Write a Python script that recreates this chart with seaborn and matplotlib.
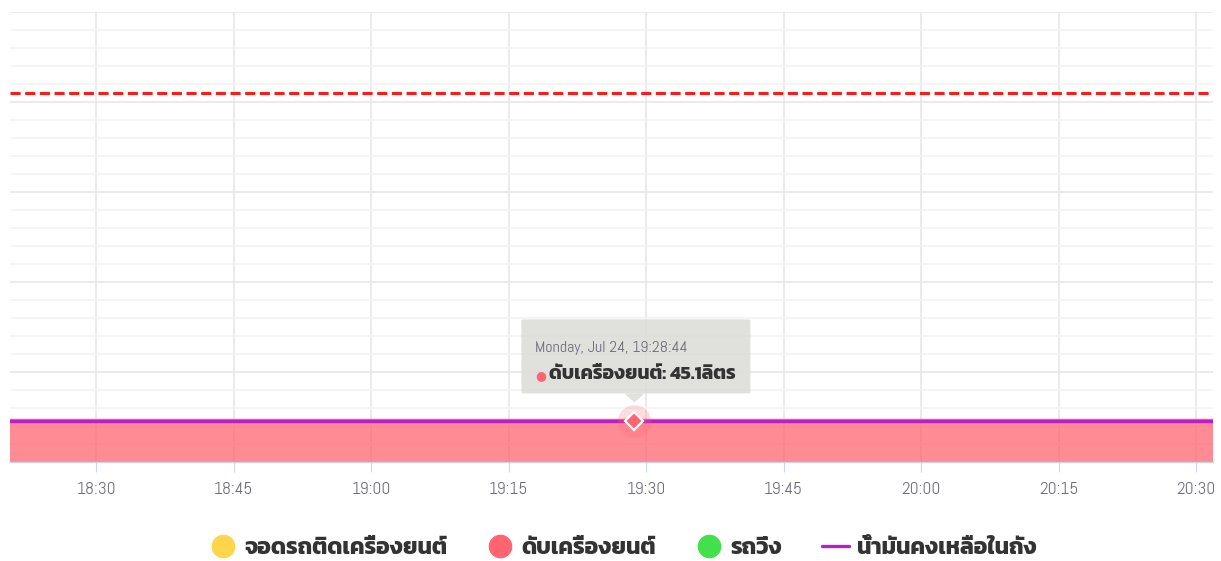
import matplotlib
matplotlib.use("Agg")
import matplotlib.pyplot as plt
import matplotlib.dates as mdates
from matplotlib.lines import Line2D
from matplotlib.patches import FancyBboxPatch, Polygon
from matplotlib.ticker import MultipleLocator, NullFormatter
from matplotlib import font_manager
import pandas as pd
import seaborn as sns

# ---- data -------------------------------------------------------------
times = ["2023-07-24 18:20:37", "2023-07-24 19:28:44", "2023-07-24 20:31:51"]
engine_off_litres = [45.1, 45.1, 45.1]      # ดับเครื่องยนต์ (area)
fuel_remaining = [45.1, 45.1, 45.1]         # น้ำมันคงเหลือในถัง (line)
tank_capacity = 410                          # dashed capacity line
hover_time = "2023-07-24 19:28:44"
hover_value = 45.1
series_names = ["จอดรถติดเครื่องยนต์", "ดับเครื่องยนต์", "รถวิ่ง", "น้ำมันคงเหลือในถัง"]
series_colors = ["#ffd54a", "#ff6470", "#44e04c", "#bb1ec6"]
unit = "ลิตร"

# ---- style ------------------------------------------------------------
sns.set_theme(style="whitegrid")
available = {f.name for f in font_manager.fontManager.ttflist}
def pick(names):
    return [f for f in names if f in available] or ["DejaVu Sans"]
light_fonts = pick(["Abel", "Kanit", "DejaVu Sans"])
bold_fonts = pick(["Kanit", "Noto Sans Thai", "DejaVu Sans"])
plt.rcParams["font.family"] = light_fonts

W, H = 1221, 561
fig = plt.figure(figsize=(W / 100, H / 100), dpi=100)
fig.patch.set_facecolor("white")
ax = fig.add_axes([10 / W, 1 - 462 / H, 1203 / W, 450 / H])
ax.set_facecolor("white")

df = pd.DataFrame({
    "time": pd.to_datetime(times),
    "off": engine_off_litres,
    "fuel": fuel_remaining,
})
hover_t = pd.to_datetime(hover_time)

# area for engine-off periods
ax.fill_between(df["time"], 0, df["off"], color=series_colors[1], alpha=0.75,
                linewidth=0, zorder=2)
sns.lineplot(data=df, x="time", y="off", ax=ax, color=series_colors[1],
             linewidth=3.2, zorder=3, legend=False)
# remaining fuel line
sns.lineplot(data=df, x="time", y="fuel", ax=ax, color=series_colors[3],
             linewidth=2.4, zorder=4, legend=False)
# tank capacity
ax.axhline(tank_capacity, color="#ff1a1a", linestyle=(0, (3.3, 1.5)),
           linewidth=2.2, zorder=4)

# axes ranges & grid
ax.set_xlim(df["time"].iloc[0], df["time"].iloc[-1])
ax.set_ylim(0, 500)
ax.yaxis.set_major_locator(MultipleLocator(100))
ax.yaxis.set_minor_locator(MultipleLocator(20))
ax.yaxis.set_major_formatter(NullFormatter())
ax.xaxis.set_major_locator(mdates.MinuteLocator(byminute=[0, 15, 30, 45]))
ax.xaxis.set_major_formatter(mdates.DateFormatter("%H:%M"))
ax.grid(True, which="major", axis="both", color="#e6e6e6", linewidth=1.1, zorder=0)
ax.grid(True, which="minor", axis="y", color="#f2f2f2", linewidth=1.1, zorder=0)
ax.set_axisbelow(True)
ax.set_xlabel("")
ax.set_ylabel("")
for side in ["left", "right", "top"]:
    ax.spines[side].set_visible(False)
ax.spines["bottom"].set_color("#ccd6eb")
ax.spines["bottom"].set_linewidth(1)
ax.spines["bottom"].set_zorder(5)
ax.tick_params(axis="y", which="both", left=False, length=0)
ax.tick_params(axis="x", which="major", direction="out", length=7.2, width=0.8,
               color="#ccd6eb", pad=7, labelsize=12.5, labelcolor="#6f6f78",
               bottom=True)

# hovered point marker
ax.scatter([hover_t], [hover_value], s=560, color=series_colors[1], alpha=0.22,
           linewidths=0, zorder=5)
ax.plot([hover_t], [hover_value], marker="D", markersize=9,
        markerfacecolor=series_colors[1], markeredgecolor="white",
        markeredgewidth=1.6, linestyle="", zorder=6)

# tooltip anchored to the hovered point
fig.canvas.draw()
px, py = ax.transData.transform((mdates.date2num(hover_t), hover_value))
def fx(x):
    return x / W
def fy(y):
    return y / H
box_l, box_r = px - 113, px + 116
box_b, box_t = py + 28, py + 102
tip_color = (219 / 255, 219 / 255, 216 / 255, 0.85)
tip = FancyBboxPatch((fx(box_l), fy(box_b)), fx(box_r - box_l), fy(box_t - box_b),
                     boxstyle="round,pad=0,rounding_size=0.002",
                     transform=fig.transFigure, facecolor=tip_color,
                     edgecolor="none", zorder=10)
fig.patches.append(tip)
arrow = Polygon([(fx(px - 10), fy(box_b)), (fx(px + 10), fy(box_b)), (fx(px), fy(box_b - 9))],
                closed=True, transform=fig.transFigure,
                facecolor=tip_color, edgecolor="none", zorder=10)
fig.patches.append(arrow)
fig.text(fx(box_l + 14), fy(box_t - 29), hover_t.strftime("%A, %b %d, %H:%M:%S"),
         fontsize=11.5, color="#6c6c7c", va="center", ha="left", zorder=11)
fig.text(fx(box_l + 14), fy(box_t - 56), "●", fontsize=9, color=series_colors[1],
         va="center", ha="left", family="DejaVu Sans", zorder=11)
fig.text(fx(box_l + 28), fy(box_t - 55), f"{series_names[1]}: {hover_value}{unit}",
         fontsize=13.9, fontweight="bold", color="#333333", va="center", ha="left",
         family=bold_fonts, zorder=11)

# legend
handles = [
    Line2D([], [], marker="o", linestyle="", markersize=16, color=series_colors[0]),
    Line2D([], [], marker="o", linestyle="", markersize=16, color=series_colors[1]),
    Line2D([], [], marker="o", linestyle="", markersize=16, color=series_colors[2]),
    Line2D([], [], color=series_colors[3], linewidth=2.4),
]
leg = fig.legend(handles, series_names, loc="center", ncol=4,
                 bbox_to_anchor=(623 / W, 1 - 548 / H), frameon=False,
                 prop={"size": 16.5, "weight": "bold", "family": bold_fonts},
                 handlelength=1.15, handletextpad=0.35, columnspacing=1.75)
for t in leg.get_texts():
    t.set_color("#333333")

fig.savefig("out.png", dpi=100, facecolor="white")
